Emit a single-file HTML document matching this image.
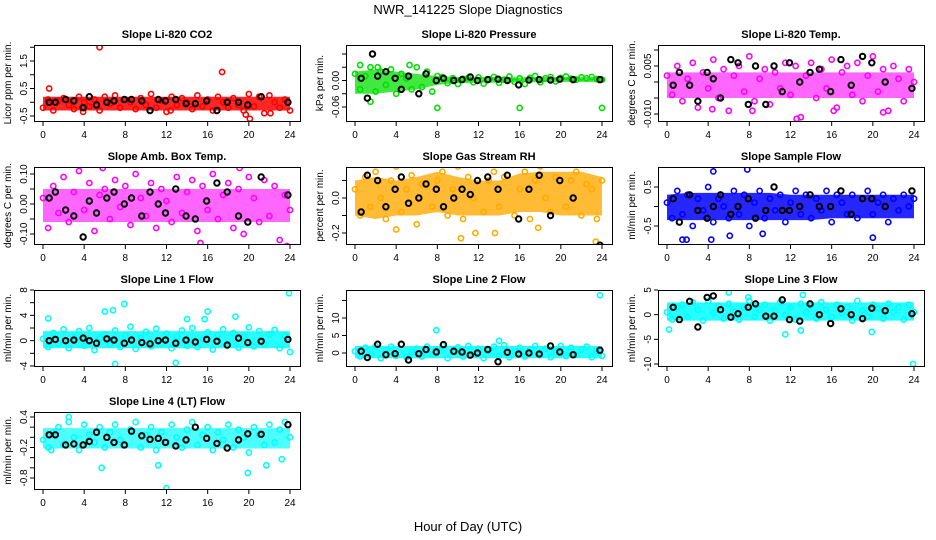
<!DOCTYPE html>
<html><head><meta charset="utf-8"><style>
body{margin:0;background:#fff;}
svg{display:block;font-family:"Liberation Sans",sans-serif;}
</style></head><body>
<svg id="chart" width="936" height="540" viewBox="0 0 936 540"></svg>
<script>
const HOURS_X_TICKS = [0,4,8,12,16,20,24];
const BLACK_HOURS = [0.6,1.2,2.2,3.0,3.9,4.5,5.2,6.2,6.9,7.9,8.6,9.6,10.4,11.2,11.9,12.9,13.9,14.8,15.9,16.9,17.9,19.0,19.9,21.2,23.8];
const BAND_HOURS = [0,2,4,6,8,10,12,14,16,18,20,22,24];

const titles = ["Slope Li-820 CO2","Slope Li-820 Pressure","Slope Li-820 Temp.","Slope Amb. Box Temp.","Slope Gas Stream RH","Slope Sample Flow","Slope Line 1 Flow","Slope Line 2 Flow","Slope Line 3 Flow","Slope Line 4 (LT) Flow"];
const yTitles = ["Licor ppm per min.","kPa per min.","degrees C per min.","degrees C per min.","percent per min.","ml/min per min.","ml/min per min.","ml/min per min.","ml/min per min.","ml/min per min."];
const colors = ["#ff0000","#00e000","#ff00ff","#ff00ff","#ffaa00","#0000ff","#00ffff","#00ffff","#00ffff","#00ffff"];

const yTicks = [[-0.5,0,0.5,1,1.5,2],[-0.06,-0.03,0,0.03,0.06],[-0.01,-0.005,0,0.005,0.01],[-0.1,-0.05,0,0.05,0.1],[-0.2,-0.1,0,0.1],[-0.5,0,0.5],[-4,-2,0,2,4,6,8],[0,5,10,15],[-10,-5,0,5],[-0.8,-0.6,-0.4,-0.2,0,0.2,0.4]];
const yTickLabels = [["-0.5","","0.5","","1.5",""],["-0.06","","0.00","",""],["-0.010","","","0.005",""],["-0.10","","0.00","","0.10"],["-0.2","","0.0",""],["-0.5","","0.5"],["-4","","0","","4","","8"],["0","5","10",""],["-10","-5","0","5"],["-0.8","","","-0.2","","","0.4"]];

const bandLo = [
[-0.3,-0.3,-0.3,-0.3,-0.3,-0.3,-0.3,-0.3,-0.3,-0.3,-0.3,-0.3,-0.3],
[-0.03,-0.03,-0.025,-0.02,-0.01,-0.006,-0.005,-0.005,-0.004,-0.004,-0.003,-0.003,-0.003],
[-0.005,-0.005,-0.005,-0.005,-0.005,-0.005,-0.005,-0.005,-0.005,-0.005,-0.005,-0.005,-0.005],
[-0.06,-0.06,-0.06,-0.06,-0.06,-0.06,-0.06,-0.06,-0.06,-0.06,-0.06,-0.06,-0.06],
[-0.1,-0.12,-0.1,-0.1,-0.08,-0.1,-0.1,-0.1,-0.08,-0.08,-0.1,-0.1,-0.1],
[-0.35,-0.35,-0.35,-0.35,-0.35,-0.35,-0.35,-0.35,-0.3,-0.3,-0.3,-0.3,-0.3],
[-1.2,-1.2,-1.2,-1.2,-1.2,-1.2,-1.2,-1.2,-1.2,-1.2,-1.2,-1.2,-1.2],
[-1.5,-1.5,-1.5,-1.5,-1.5,-1.5,-1.5,-1.5,-1.5,-1.5,-1.5,-1.5,-1.5],
[-1.2,-1.2,-1.2,-1.2,-1.2,-1.2,-1.2,-1.2,-1.2,-1.2,-1.2,-1.2,-1.2],
[-0.22,-0.22,-0.22,-0.22,-0.22,-0.22,-0.22,-0.22,-0.22,-0.22,-0.22,-0.22,-0.22]];
const bandHi = [
[0.2,0.2,0.2,0.2,0.2,0.2,0.2,0.2,0.2,0.2,0.2,0.2,0.2],
[0.02,0.025,0.02,0.015,0.01,0.008,0.008,0.008,0.007,0.008,0.008,0.008,0.008],
[0.003,0.003,0.003,0.003,0.003,0.003,0.003,0.003,0.003,0.003,0.003,0.003,0.003],
[0.05,0.05,0.05,0.05,0.05,0.05,0.05,0.05,0.05,0.05,0.05,0.05,0.05],
[0.1,0.12,0.1,0.12,0.15,0.12,0.1,0.1,0.14,0.15,0.15,0.15,0.12],
[0.3,0.35,0.35,0.35,0.35,0.35,0.3,0.3,0.3,0.3,0.3,0.3,0.3],
[1.5,1.5,1.5,1.5,1.5,1.5,1.5,1.5,1.5,1.5,1.5,1.5,1.5],
[2.0,2.0,2.0,2.0,2.0,2.0,2.0,2.0,2.0,2.0,2.0,2.0,2.0],
[2.5,2.5,2.5,2.5,2.5,2.5,2.5,2.5,2.5,2.5,2.5,2.5,2.5],
[0.18,0.18,0.18,0.18,0.18,0.18,0.18,0.18,0.18,0.18,0.18,0.18,0.18]];

const colorVals = [
[-0.2,0.1,-0.3,0.05,0.15,-0.1,-0.25,0.2,0.0,-0.15,0.1,-0.3,0.2,-0.05,0.25,-0.2,0.1,0.0,-0.25,0.15,-0.1,0.3,-0.2,0.05,-0.35,0.2,-0.1,0.15,0.0,-0.25,0.25,-0.15,0.1,-0.3,0.2,0.0,-0.2,0.15,-0.1,-0.3,0.3,-0.15,0.2,-0.4,0.25,0.0,-0.2,0.1,-0.3],
[0.015,-0.02,0.01,0.03,-0.025,0.02,-0.01,0.025,-0.03,0.015,0.005,-0.02,0.03,-0.015,0.02,-0.025,0.01,0.008,-0.006,0.005,-0.008,0.004,0.006,-0.004,0.007,-0.007,0.003,0.008,-0.005,0.002,0.009,-0.003,0.005,-0.008,0.006,0.01,-0.004,0.005,0.008,-0.002,0.006,0.009,0.004,0.002,0.007,0.005,0.008,0.003,0.002],
[0.002,-0.004,0.005,-0.006,0.001,0.006,-0.008,0.003,-0.002,0.007,-0.005,0.004,-0.009,0.002,0.005,-0.003,0.008,-0.006,0.001,0.004,-0.007,0.003,-0.002,0.006,-0.004,0.005,-0.011,0.002,0.006,-0.005,0.004,-0.002,0.007,-0.008,0.003,0.005,-0.004,0.006,-0.006,0.002,0.008,-0.003,0.004,-0.009,0.005,0.001,-0.006,0.004,0.000],
[0.02,-0.08,0.06,-0.03,0.09,-0.06,0.04,0.11,-0.02,0.07,-0.09,0.03,0.05,-0.05,0.08,-0.01,0.06,-0.07,0.1,0.02,-0.04,0.07,-0.08,0.05,0.01,-0.06,0.09,-0.03,0.04,0.08,-0.09,0.06,-0.02,0.1,-0.05,0.03,0.07,-0.08,0.05,-0.1,0.09,0.02,-0.06,0.08,-0.04,0.06,-0.12,0.03,-0.02],
[0.05,-0.1,0.12,-0.05,0.15,0.0,-0.12,0.1,0.18,-0.08,0.05,0.13,-0.15,0.08,0.2,-0.05,0.1,0.15,-0.1,0.05,0.18,-0.12,0.12,0.0,0.2,-0.08,0.1,0.15,-0.05,0.12,0.2,-0.1,0.05,0.15,-0.12,0.1,0.18,0.0,-0.08,0.12,0.2,-0.05,0.1,0.15,-0.1,0.08,0.05,-0.12,0.1],
[0.1,-0.3,0.4,-0.2,0.3,-0.5,0.2,-0.1,0.5,-0.4,0.2,0.0,-0.3,0.4,-0.2,0.3,-0.5,0.1,0.4,-0.3,0.2,-0.1,0.3,-0.4,0.1,0.4,-0.2,0.3,-0.3,0.2,-0.1,0.4,-0.4,0.3,0.1,-0.2,0.3,-0.3,0.2,0.4,-0.2,0.1,0.3,-0.4,0.2,-0.1,0.3,0.0,0.2],
[0.3,-1.0,1.2,-0.5,1.8,-1.2,0.6,1.5,-0.8,2.0,-1.5,0.4,1.0,-0.6,1.6,-1.0,0.8,2.2,-1.3,0.5,1.4,-0.9,1.9,-0.4,1.1,-1.2,0.7,1.6,-0.8,2.0,-1.0,0.3,1.3,-1.4,0.9,1.8,-0.6,1.2,-1.1,0.6,2.1,-0.9,1.5,-0.5,1.0,1.7,-1.2,0.8,-1.8],
[0.5,-1.0,1.5,-0.5,2.0,-1.5,0.8,1.8,-0.8,2.5,-1.2,0.3,1.2,-1.0,1.8,-0.5,1.0,2.2,-1.5,0.5,1.6,-1.0,2.0,-0.3,1.2,-1.5,0.6,1.8,-0.8,2.2,-1.2,0.4,1.5,-1.0,0.9,2.0,-0.6,1.2,-1.2,0.5,2.0,-0.9,1.5,-0.5,1.0,1.8,-1.2,0.6,-0.8],
[0.5,-1.0,1.5,2.0,-0.5,2.5,1.0,-1.2,2.8,0.3,1.8,-0.8,2.2,0.6,-1.0,1.5,2.8,-0.5,1.0,2.0,-1.2,0.8,2.5,0.0,1.5,-1.0,2.2,0.5,1.8,-0.8,2.5,1.0,-0.5,2.0,0.3,1.5,-1.2,2.8,0.8,-0.3,2.0,1.2,-0.8,2.2,0.5,1.5,-1.0,2.0,0.5],
[-0.05,-0.2,0.1,0.2,-0.15,0.3,0.0,-0.25,0.25,0.05,-0.1,0.2,-0.2,0.1,0.25,-0.05,-0.15,0.15,0.3,-0.2,0.05,0.2,-0.25,0.1,-0.1,0.25,0.0,-0.2,0.15,0.3,-0.15,0.05,0.2,-0.25,0.1,-0.05,0.25,-0.2,0.15,0.0,-0.3,0.2,0.05,-0.15,0.25,-0.1,0.15,0.3,0.0]];

const blackVals = [
[0,0,0.1,0.05,-0.2,0.2,-0.1,0.0,0.05,0.1,0.1,0.05,-0.3,0.1,0.05,0.1,-0.05,-0.05,0.05,-0.3,0.0,0.0,-0.1,0.2,0.0],
[0.005,-0.04,0.01,0.02,0.005,-0.02,0.01,-0.03,0.015,0,0.005,0,0.002,0.008,0,0.002,0.003,0,-0.01,0.001,0.002,0.001,0.003,0.002,0.002],
[-0.001,0.003,-0.001,-0.006,0.003,0.001,-0.005,0.007,0.006,-0.007,0.005,-0.007,0.005,-0.003,0.006,0.0,0.003,0.004,-0.003,0.007,-0.001,0.008,0.006,0.0,-0.002],
[0.02,0.04,-0.02,-0.04,-0.11,0.01,-0.03,0.02,0.04,0.0,0.02,-0.04,0.04,0.0,-0.03,0.05,-0.04,-0.05,0.01,0.07,0.04,-0.04,-0.06,0.09,0.03],
[-0.08,0.13,0.1,-0.05,0.05,0.12,-0.03,0.0,0.08,0.05,-0.05,0.0,0.05,0.02,0.1,0.12,0.05,0.13,-0.12,0.05,0.13,-0.1,0.1,0.0,-0.27],
[0.2,-0.4,0.3,-0.1,-0.3,0.0,0.3,-0.2,0.0,0.2,-0.3,-0.1,0.5,-0.1,-0.1,0.0,0.3,0.0,0.0,0.4,-0.2,0.2,0.2,0.0,0.4],
[0,0.2,0,0.1,0.4,0,-0.4,0.3,0.1,-0.4,0.1,-0.3,-0.5,0,0.1,-0.4,0.1,-0.2,0.2,-0.1,-0.7,0.4,-0.3,-0.1,0.2],
[0.5,-1.3,2.5,-0.5,-0.2,2.5,-2.0,-0.2,1.0,0.3,2.4,0.5,0.3,-0.6,0,1.0,-2.5,0.2,-0.3,0.0,-0.3,2.0,0.3,-0.5,0.8],
[1.5,-1.0,2.7,-2.5,3.5,3.8,1.0,-0.5,0.2,1.5,2.2,-0.3,-0.3,3.0,-1.0,-1.3,2.2,0.0,-1.8,1.2,0.0,-0.8,1.3,0.8,0.2],
[0.05,0.05,-0.15,-0.13,-0.15,-0.08,0.1,0.0,-0.1,-0.15,0.12,0.03,-0.04,-0.02,-0.1,-0.17,-0.05,0.2,-0.02,-0.12,-0.21,-0.05,0.07,0.06,0.25]];

const outlierX = [[0.6,5.5,17.4,20.1,22.1,19.7,3.9,12.4],[0.5,5.3,1.5,8,16,24,2.2],[12.6,4.4,8.3,21,16.2],[15.3,5.8,19.1,23.7],[4,11.7,13.6,10.3,23.4,17.8],[1.5,1.9,4.5,7.8,9.3,20,4.3,6.1],[0.5,6,7,7.9,16,15.7,18.7,23.9,6.8,12.9,14],[7.9,23.8,14],[0.2,6,7.9,11.5,13,19.9,23.9,13.2],[12,19.9,5.7,11.2,21.7,0.8,2.5,23.2]];
const outlierY = [[0.5,2.0,1.1,-0.6,-0.4,-0.45,-0.35,-0.3],[0.035,0.035,-0.048,-0.062,-0.062,-0.062,0.03],[-0.0115,-0.0085,-0.009,-0.0095,-0.009],[-0.13,0.12,0.12,-0.14],[-0.18,-0.2,-0.2,-0.23,-0.25,-0.17],[-0.85,-0.85,0.9,0.95,-0.7,-0.8,-0.85,-0.75],[3.5,4.6,-3.7,5.8,4.6,3.4,3.8,7.5,4.8,-3.5,3.4],[6.5,16.5,3.5],[-3,4.5,3.5,-4,-3.2,-3.5,-10,4],[-1.0,-0.7,-0.6,-0.55,-0.55,-0.25,0.4,-0.43]];
const blackOutX = [[],[1.7],[],[],[],[],[],[],[],[]];
const blackOutY = [[],[0.06],[],[],[],[],[],[],[],[]];

// layout/style (pixels, not data)
const colL=[34,346,658], colR=[300,612,924];
const rowT=[45,167,290,412], rowB=[121,244,366,489];
const yCal=[[-0.5,116,1.5,61],[-0.06,107,0.06,54],[-0.01,114,0.01,50],[-0.1,234,0.1,174],[-0.2,233,0,198],[-0.5,226,0.5,187],[-4,366,8,290],[0,353,10,318],[-10,364,5,290],[-0.8,478,0.4,417]];
const bandOpacity=[0.85,0.75,0.6,0.6,0.8,0.85,0.85,0.85,0.85,0.7];

const NS="http://www.w3.org/2000/svg";
const svg=document.getElementById('chart');
function mk(tag,attrs,parent,text){const e=document.createElementNS(NS,tag);for(const k in attrs)e.setAttribute(k,attrs[k]);if(text!==undefined)e.textContent=text;(parent||svg).appendChild(e);return e;}

const t1=mk('text',{x:468,y:14,'text-anchor':'middle','font-size':13},svg,"NWR_141225  Slope Diagnostics");


const t2=mk('text',{x:468,y:531,'text-anchor':'middle','font-size':13},svg,"Hour of Day (UTC)");



for(let p=0;p<10;p++){
  const c=p%3, r=Math.floor(p/3);
  const L=colL[c],R=colR[c],T=rowT[r],B=rowB[r];
  const xs=h=>L+9+h*(R-L-19)/24;
  const cal=yCal[p];
  const ys=v=>cal[1]+(v-cal[0])*(cal[3]-cal[1])/(cal[2]-cal[0]);
  const g=mk('g',{});
  
  
  const clip=mk('clipPath',{id:'cp'+p},g);
  mk('rect',{x:L,y:T,width:R-L,height:B-T},clip);
  const data=mk('g',{'clip-path':'url(#cp'+p+')'},g);
  let d='';
  for(let i=0;i<BAND_HOURS.length;i++)d+=(i?'L':'M')+xs(BAND_HOURS[i])+','+ys(bandHi[p][i]);
  for(let i=BAND_HOURS.length-1;i>=0;i--)d+='L'+xs(BAND_HOURS[i])+','+ys(bandLo[p][i]);
  const band=mk('path',{d:d+'Z',fill:colors[p],opacity:bandOpacity[p]},data);
  
  
  const sw=1.6;
  for(let i=0;i<colorVals[p].length;i++){
    const pt=mk('circle',{cx:xs(i*0.5),cy:ys(colorVals[p][i]),r:2.6,fill:'none',stroke:colors[p],'stroke-width':sw},data);
    
    
  }
  for(let i=0;i<outlierX[p].length;i++){
    const pt=mk('circle',{cx:xs(outlierX[p][i]),cy:ys(outlierY[p][i]),r:2.6,fill:'none',stroke:colors[p],'stroke-width':sw},data);
    
    
  }
  for(let i=0;i<blackVals[p].length;i++){
    const pt=mk('circle',{cx:xs(BLACK_HOURS[i]),cy:ys(blackVals[p][i]),r:2.7,fill:'none',stroke:'#000','stroke-width':2},data);
    
    
  }
  for(let i=0;i<blackOutX[p].length;i++){
    const pt=mk('circle',{cx:xs(blackOutX[p][i]),cy:ys(blackOutY[p][i]),r:2.7,fill:'none',stroke:'#000','stroke-width':2},data);
    
    
  }
  const box=mk('rect',{x:L+0.5,y:T+0.5,width:R-L,height:B-T,fill:'none',stroke:'#000','stroke-width':1},g);
  
  
  const tt=mk('text',{x:(L+R)/2,y:T-7,'text-anchor':'middle','font-size':11,'font-weight':'bold'},g,titles[p]);
  
  
  for(const h of HOURS_X_TICKS){
    const x=xs(h);
    mk('line',{x1:x,x2:x,y1:B+1,y2:B+5,stroke:'#000'},g);
    const tl=mk('text',{x:x,y:B+17,'text-anchor':'middle','font-size':10},g,String(h));
    
    
  }
  for(let i=0;i<yTicks[p].length;i++){
    const y=ys(yTicks[p][i]);
    mk('line',{x1:L-4,x2:L,y1:y,y2:y,stroke:'#000'},g);
    if(yTickLabels[p][i]){
      const tl=mk('text',{x:L-7,y:y,'text-anchor':'middle','font-size':10,transform:'rotate(-90 '+(L-7)+' '+y+')'},g,yTickLabels[p][i]);
      
      
    }
  }
  const yl=L-23, ym=(T+B)/2;
  const yt=mk('text',{x:yl,y:ym,'text-anchor':'middle','font-size':10,transform:'rotate(-90 '+yl+' '+ym+')'},g,yTitles[p]);
  
  
}
</script>
</body></html>
